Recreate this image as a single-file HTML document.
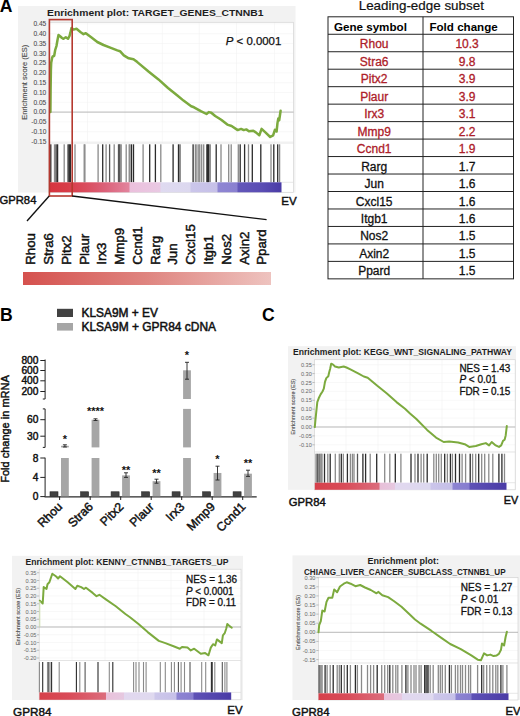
<!DOCTYPE html><html><head><meta charset="utf-8"><style>html,body{margin:0;padding:0;background:#fff;}svg{display:block;}text{font-family:"Liberation Sans",sans-serif;}</style></head><body>
<svg width="520" height="716" viewBox="0 0 520 716">
<rect x="0" y="0" width="520" height="716" fill="#ffffff" />
<text x="-0.2" y="12.4" font-size="17.6" text-anchor="start" fill="#000" font-weight="bold" >A</text>
<rect x="18" y="6" width="277.5" height="186.5" fill="#f2f2f2" />
<rect x="49" y="22.3" width="244.5" height="170.0" fill="#ffffff" />
<line x1="49" y1="23.9" x2="293.5" y2="23.9" stroke="#f3f3f3" stroke-width="0.6" />
<line x1="49" y1="33.7" x2="293.5" y2="33.7" stroke="#f3f3f3" stroke-width="0.6" />
<line x1="49" y1="43.5" x2="293.5" y2="43.5" stroke="#f3f3f3" stroke-width="0.6" />
<line x1="49" y1="53.3" x2="293.5" y2="53.3" stroke="#f3f3f3" stroke-width="0.6" />
<line x1="49" y1="63.1" x2="293.5" y2="63.1" stroke="#f3f3f3" stroke-width="0.6" />
<line x1="49" y1="72.9" x2="293.5" y2="72.9" stroke="#f3f3f3" stroke-width="0.6" />
<line x1="49" y1="82.7" x2="293.5" y2="82.7" stroke="#f3f3f3" stroke-width="0.6" />
<line x1="49" y1="92.5" x2="293.5" y2="92.5" stroke="#f3f3f3" stroke-width="0.6" />
<line x1="49" y1="102.3" x2="293.5" y2="102.3" stroke="#f3f3f3" stroke-width="0.6" />
<line x1="49" y1="112.1" x2="293.5" y2="112.1" stroke="#f3f3f3" stroke-width="0.6" />
<line x1="49" y1="121.9" x2="293.5" y2="121.9" stroke="#f3f3f3" stroke-width="0.6" />
<line x1="49" y1="131.7" x2="293.5" y2="131.7" stroke="#f3f3f3" stroke-width="0.6" />
<line x1="49" y1="141.5" x2="293.5" y2="141.5" stroke="#f3f3f3" stroke-width="0.6" />
<line x1="87.5" y1="22.3" x2="87.5" y2="143" stroke="#f1f1f1" stroke-width="0.6" />
<line x1="125" y1="22.3" x2="125" y2="143" stroke="#f1f1f1" stroke-width="0.6" />
<line x1="162.3" y1="22.3" x2="162.3" y2="143" stroke="#f1f1f1" stroke-width="0.6" />
<line x1="199.2" y1="22.3" x2="199.2" y2="143" stroke="#f1f1f1" stroke-width="0.6" />
<line x1="236.5" y1="22.3" x2="236.5" y2="143" stroke="#f1f1f1" stroke-width="0.6" />
<line x1="274.6" y1="22.3" x2="274.6" y2="143" stroke="#f1f1f1" stroke-width="0.6" />
<rect x="49" y="22.3" width="244.5" height="170.0" fill="none" stroke="#d4d4d4" stroke-width="0.7"/>
<line x1="49" y1="143" x2="293.5" y2="143" stroke="#d8d8d8" stroke-width="0.7" />
<line x1="281.5" y1="182.3" x2="293.5" y2="182.3" stroke="#dddddd" stroke-width="0.7" />
<line x1="49" y1="112.1" x2="293.5" y2="112.1" stroke="#a9a9a9" stroke-width="0.8" />
<text x="46.3" y="26.28" font-size="6.6" text-anchor="end" fill="#4a4a4a" stroke="#4a4a4a" stroke-width="0.06" >0.45</text>
<text x="46.3" y="36.08" font-size="6.6" text-anchor="end" fill="#4a4a4a" stroke="#4a4a4a" stroke-width="0.06" >0.40</text>
<text x="46.3" y="45.88" font-size="6.6" text-anchor="end" fill="#4a4a4a" stroke="#4a4a4a" stroke-width="0.06" >0.35</text>
<text x="46.3" y="55.68" font-size="6.6" text-anchor="end" fill="#4a4a4a" stroke="#4a4a4a" stroke-width="0.06" >0.30</text>
<text x="46.3" y="65.48" font-size="6.6" text-anchor="end" fill="#4a4a4a" stroke="#4a4a4a" stroke-width="0.06" >0.25</text>
<text x="46.3" y="75.28" font-size="6.6" text-anchor="end" fill="#4a4a4a" stroke="#4a4a4a" stroke-width="0.06" >0.20</text>
<text x="46.3" y="85.08" font-size="6.6" text-anchor="end" fill="#4a4a4a" stroke="#4a4a4a" stroke-width="0.06" >0.15</text>
<text x="46.3" y="94.88" font-size="6.6" text-anchor="end" fill="#4a4a4a" stroke="#4a4a4a" stroke-width="0.06" >0.10</text>
<text x="46.3" y="104.68" font-size="6.6" text-anchor="end" fill="#4a4a4a" stroke="#4a4a4a" stroke-width="0.06" >0.05</text>
<text x="46.3" y="114.48" font-size="6.6" text-anchor="end" fill="#4a4a4a" stroke="#4a4a4a" stroke-width="0.06" >0.00</text>
<text x="46.3" y="124.28" font-size="6.6" text-anchor="end" fill="#4a4a4a" stroke="#4a4a4a" stroke-width="0.06" >-0.05</text>
<text x="46.3" y="134.08" font-size="6.6" text-anchor="end" fill="#4a4a4a" stroke="#4a4a4a" stroke-width="0.06" >-0.10</text>
<text x="46.3" y="143.88" font-size="6.6" text-anchor="end" fill="#4a4a4a" stroke="#4a4a4a" stroke-width="0.06" >-0.15</text>
<text x="0" y="0" font-size="7" text-anchor="middle" fill="#4a4a4a" stroke="#4a4a4a" stroke-width="0.12" transform="translate(26.8,82.3) rotate(-90)" textLength="75" lengthAdjust="spacingAndGlyphs">Enrichment score (ES)</text>
<rect x="50.15" y="144.3" width="1.3" height="38.0" fill="#2c2c2c"/>
<rect x="53.85" y="144.3" width="1.3" height="38.0" fill="#8a8a8a"/>
<rect x="55.45" y="144.3" width="1.3" height="38.0" fill="#2c2c2c"/>
<rect x="56.95" y="144.3" width="1.3" height="38.0" fill="#2c2c2c"/>
<rect x="63.55" y="144.3" width="1.3" height="38.0" fill="#8a8a8a"/>
<rect x="67.45" y="144.3" width="1.3" height="38.0" fill="#2c2c2c"/>
<rect x="68.65" y="144.3" width="1.3" height="38.0" fill="#2c2c2c"/>
<rect x="69.75" y="144.3" width="1.3" height="38.0" fill="#2c2c2c"/>
<rect x="74.35" y="144.3" width="1.3" height="38.0" fill="#8a8a8a"/>
<rect x="83.55" y="144.3" width="1.3" height="38.0" fill="#8a8a8a"/>
<rect x="84.25" y="144.3" width="1.3" height="38.0" fill="#8a8a8a"/>
<rect x="97.45" y="144.3" width="1.3" height="38.0" fill="#8a8a8a"/>
<rect x="102.05" y="144.3" width="1.3" height="38.0" fill="#2c2c2c"/>
<rect x="105.45" y="144.3" width="1.3" height="38.0" fill="#8a8a8a"/>
<rect x="108.95" y="144.3" width="1.3" height="38.0" fill="#565656"/>
<rect x="113.55" y="144.3" width="1.3" height="38.0" fill="#8a8a8a"/>
<rect x="117.85" y="144.3" width="1.3" height="38.0" fill="#565656"/>
<rect x="118.65" y="144.3" width="1.3" height="38.0" fill="#565656"/>
<rect x="119.35" y="144.3" width="1.3" height="38.0" fill="#565656"/>
<rect x="120.55" y="144.3" width="1.3" height="38.0" fill="#8a8a8a"/>
<rect x="125.55" y="144.3" width="1.3" height="38.0" fill="#8a8a8a"/>
<rect x="128.55" y="144.3" width="1.3" height="38.0" fill="#8a8a8a"/>
<rect x="129.25" y="144.3" width="1.3" height="38.0" fill="#8a8a8a"/>
<rect x="130.85" y="144.3" width="1.3" height="38.0" fill="#2c2c2c"/>
<rect x="132.85" y="144.3" width="1.3" height="38.0" fill="#2c2c2c"/>
<rect x="142.45" y="144.3" width="1.3" height="38.0" fill="#8a8a8a"/>
<rect x="149.05" y="144.3" width="1.3" height="38.0" fill="#2c2c2c"/>
<rect x="154.75" y="144.3" width="1.3" height="38.0" fill="#2c2c2c"/>
<rect x="160.15" y="144.3" width="1.3" height="38.0" fill="#8a8a8a"/>
<rect x="172.45" y="144.3" width="1.3" height="38.0" fill="#2c2c2c"/>
<rect x="177.85" y="144.3" width="1.3" height="38.0" fill="#2c2c2c"/>
<rect x="179.35" y="144.3" width="1.3" height="38.0" fill="#565656"/>
<rect x="192.45" y="144.3" width="1.3" height="38.0" fill="#2c2c2c"/>
<rect x="194.75" y="144.3" width="1.3" height="38.0" fill="#8a8a8a"/>
<rect x="196.25" y="144.3" width="1.3" height="38.0" fill="#8a8a8a"/>
<rect x="198.15" y="144.3" width="1.3" height="38.0" fill="#8a8a8a"/>
<rect x="199.15" y="144.3" width="1.3" height="38.0" fill="#8a8a8a"/>
<rect x="201.05" y="144.3" width="1.3" height="38.0" fill="#8a8a8a"/>
<rect x="203.05" y="144.3" width="1.3" height="38.0" fill="#8a8a8a"/>
<rect x="206.25" y="144.3" width="1.3" height="38.0" fill="#2c2c2c"/>
<rect x="207.05" y="144.3" width="1.3" height="38.0" fill="#2c2c2c"/>
<rect x="207.85" y="144.3" width="1.3" height="38.0" fill="#2c2c2c"/>
<rect x="209.35" y="144.3" width="1.3" height="38.0" fill="#565656"/>
<rect x="215.55" y="144.3" width="1.3" height="38.0" fill="#2c2c2c"/>
<rect x="220.35" y="144.3" width="1.3" height="38.0" fill="#8a8a8a"/>
<rect x="228.05" y="144.3" width="1.3" height="38.0" fill="#8a8a8a"/>
<rect x="230.55" y="144.3" width="1.3" height="38.0" fill="#8a8a8a"/>
<rect x="237.65" y="144.3" width="1.3" height="38.0" fill="#8a8a8a"/>
<rect x="239.55" y="144.3" width="1.3" height="38.0" fill="#2c2c2c"/>
<rect x="243.95" y="144.3" width="1.3" height="38.0" fill="#2c2c2c"/>
<rect x="247.85" y="144.3" width="1.3" height="38.0" fill="#8a8a8a"/>
<rect x="251.65" y="144.3" width="1.3" height="38.0" fill="#2c2c2c"/>
<rect x="260.15" y="144.3" width="1.3" height="38.0" fill="#2c2c2c"/>
<rect x="270.35" y="144.3" width="1.3" height="38.0" fill="#8a8a8a"/>
<rect x="273.15" y="144.3" width="1.3" height="38.0" fill="#2c2c2c"/>
<rect x="277.05" y="144.3" width="1.3" height="38.0" fill="#2c2c2c"/>
<rect x="278.95" y="144.3" width="1.3" height="38.0" fill="#8a8a8a"/>
<defs><linearGradient id="cbA" x1="0" x2="1" y1="0" y2="0"><stop offset="0.0" stop-color="#d6343f"/><stop offset="0.0774" stop-color="#d83c48"/><stop offset="0.1591" stop-color="#da4d5e"/><stop offset="0.2409" stop-color="#db6179"/><stop offset="0.3441" stop-color="#e2849d"/><stop offset="0.3484" stop-color="#ebc0dc"/><stop offset="0.4774" stop-color="#e9c9e3"/><stop offset="0.4817" stop-color="#dfdaf0"/><stop offset="0.6065" stop-color="#dcd8ef"/><stop offset="0.6108" stop-color="#cbc6ea"/><stop offset="0.7226" stop-color="#c6c0e8"/><stop offset="0.7269" stop-color="#8f86d3"/><stop offset="0.8086" stop-color="#8a80d0"/><stop offset="0.8129" stop-color="#6357b9"/><stop offset="0.9161" stop-color="#5a4db4"/><stop offset="1.0" stop-color="#4a3ba6"/></linearGradient></defs>
<rect x="49" y="182.3" width="232.5" height="10.0" fill="url(#cbA)"/>
<polyline points="50.4,112.1 50.6,90 50.9,70 51.2,62.7 52.2,57.5 52.7,56.5 54.2,55.8 55.2,50 56.5,45.8 57.5,40 58.5,35 60.4,36.5 62,38 63.5,38.8 65.8,37.3 68,38.8 69.5,36 70.4,32.7 71.5,28 73.5,29.6 76.5,28.8 80.4,32 83.5,34.2 85.8,33.2 91.2,37.3 97.3,42 103.5,45 109.6,47.3 117.3,50.4 120,51.2 123.8,55.4 128.7,58.3 133.5,59.2 137.3,62.1 148.8,71.7 158.5,79.4 168,88 177.7,95.8 183.5,100.6 191.2,106.3 194,107.3 200.8,111.2 206.5,114 208.8,112.1 211.3,112.7 215.2,116 221.2,119.8 227.3,124.6 231.6,126 237.7,130.1 241.1,128.9 243.7,130.1 246.3,129.4 248.9,131.2 253.3,130.7 255.8,132.4 259.3,135.3 261.6,128.9 265.4,132.4 270.2,137 273.1,135.3 274.9,129.8 276.6,131.5 277.5,122.9 278.3,118.5 279.2,120.3 280.6,110.8" fill="none" stroke="#7caa3e" stroke-width="2.5" stroke-linejoin="round" stroke-linecap="round"/>
<text x="47" y="16.2" font-size="9.9" text-anchor="start" fill="#1e1e1e" font-weight="bold" textLength="216.5" lengthAdjust="spacingAndGlyphs" >Enrichment plot: TARGET_GENES_CTNNB1</text>
<text x="225.8" y="44.6" font-size="11.4" fill="#111" stroke="#111" stroke-width="0.25" textLength="55.5" lengthAdjust="spacingAndGlyphs"><tspan font-style="italic">P</tspan> &lt; 0.0001</text>
<rect x="49.4" y="19.6" width="22.8" height="176.4" fill="none" stroke="#b5392f" stroke-width="1.6"/>
<text x="-0.6" y="204.2" font-size="11.5" text-anchor="start" fill="#111" textLength="37" lengthAdjust="spacingAndGlyphs" stroke="#111" stroke-width="0.45" >GPR84</text>
<text x="281.3" y="205" font-size="11.5" text-anchor="start" fill="#111" textLength="15.4" lengthAdjust="spacingAndGlyphs" stroke="#111" stroke-width="0.45" >EV</text>
<line x1="49.2" y1="196" x2="27" y2="221" stroke="#111" stroke-width="1.35" />
<line x1="72.2" y1="196" x2="266.6" y2="219.6" stroke="#111" stroke-width="1.35" />
<text x="0" y="0" font-size="13.3" fill="#111" stroke="#111" stroke-width="0.45" transform="translate(35.2,264.8) rotate(-90)">Rhou</text>
<text x="0" y="0" font-size="13.3" fill="#111" stroke="#111" stroke-width="0.45" transform="translate(52.98,264.8) rotate(-90)">Stra6</text>
<text x="0" y="0" font-size="13.3" fill="#111" stroke="#111" stroke-width="0.45" transform="translate(70.76,264.8) rotate(-90)">Pitx2</text>
<text x="0" y="0" font-size="13.3" fill="#111" stroke="#111" stroke-width="0.45" transform="translate(88.54,264.8) rotate(-90)">Plaur</text>
<text x="0" y="0" font-size="13.3" fill="#111" stroke="#111" stroke-width="0.45" transform="translate(106.32,264.8) rotate(-90)">Irx3</text>
<text x="0" y="0" font-size="13.3" fill="#111" stroke="#111" stroke-width="0.45" transform="translate(124.1,264.8) rotate(-90)">Mmp9</text>
<text x="0" y="0" font-size="13.3" fill="#111" stroke="#111" stroke-width="0.45" transform="translate(141.88,264.8) rotate(-90)">Ccnd1</text>
<text x="0" y="0" font-size="13.3" fill="#111" stroke="#111" stroke-width="0.45" transform="translate(159.66,264.8) rotate(-90)">Rarg</text>
<text x="0" y="0" font-size="13.3" fill="#111" stroke="#111" stroke-width="0.45" transform="translate(177.44,264.8) rotate(-90)">Jun</text>
<text x="0" y="0" font-size="13.3" fill="#111" stroke="#111" stroke-width="0.45" transform="translate(195.22,264.8) rotate(-90)">Cxcl15</text>
<text x="0" y="0" font-size="13.3" fill="#111" stroke="#111" stroke-width="0.45" transform="translate(213.0,264.8) rotate(-90)">Itgb1</text>
<text x="0" y="0" font-size="13.3" fill="#111" stroke="#111" stroke-width="0.45" transform="translate(230.78,264.8) rotate(-90)">Nos2</text>
<text x="0" y="0" font-size="13.3" fill="#111" stroke="#111" stroke-width="0.45" transform="translate(248.56,264.8) rotate(-90)">Axin2</text>
<text x="0" y="0" font-size="13.3" fill="#111" stroke="#111" stroke-width="0.45" transform="translate(266.34,264.8) rotate(-90)">Ppard</text>
<defs><linearGradient id="gA" x1="0" x2="1" y1="0" y2="0"><stop offset="0" stop-color="#d5514e"/><stop offset="0.5" stop-color="#df8580"/><stop offset="1" stop-color="#eec3bf"/></linearGradient></defs>
<rect x="23" y="272" width="248" height="13" fill="url(#gA)"/>
<text x="421.3" y="10.2" font-size="13.6" text-anchor="middle" fill="#111" textLength="125.2" lengthAdjust="spacingAndGlyphs" stroke="#111" stroke-width="0.2" >Leading-edge subset</text>
<rect x="328" y="16.8" width="185.5" height="262.05" fill="none" stroke="#222" stroke-width="1"/>
<line x1="423" y1="16.8" x2="423" y2="278.85" stroke="#222" stroke-width="1" />
<line x1="328" y1="34.27" x2="513.5" y2="34.27" stroke="#222" stroke-width="1" />
<line x1="328" y1="51.74" x2="513.5" y2="51.74" stroke="#222" stroke-width="1" />
<line x1="328" y1="69.21" x2="513.5" y2="69.21" stroke="#222" stroke-width="1" />
<line x1="328" y1="86.68" x2="513.5" y2="86.68" stroke="#222" stroke-width="1" />
<line x1="328" y1="104.15" x2="513.5" y2="104.15" stroke="#222" stroke-width="1" />
<line x1="328" y1="121.62" x2="513.5" y2="121.62" stroke="#222" stroke-width="1" />
<line x1="328" y1="139.09" x2="513.5" y2="139.09" stroke="#222" stroke-width="1" />
<line x1="328" y1="156.56" x2="513.5" y2="156.56" stroke="#222" stroke-width="1" />
<line x1="328" y1="174.03" x2="513.5" y2="174.03" stroke="#222" stroke-width="1" />
<line x1="328" y1="191.5" x2="513.5" y2="191.5" stroke="#222" stroke-width="1" />
<line x1="328" y1="208.97" x2="513.5" y2="208.97" stroke="#222" stroke-width="1" />
<line x1="328" y1="226.44" x2="513.5" y2="226.44" stroke="#222" stroke-width="1" />
<line x1="328" y1="243.91" x2="513.5" y2="243.91" stroke="#222" stroke-width="1" />
<line x1="328" y1="261.38" x2="513.5" y2="261.38" stroke="#222" stroke-width="1" />
<text x="370.4" y="31.4" font-size="11.8" text-anchor="middle" fill="#000" font-weight="bold" textLength="73" lengthAdjust="spacingAndGlyphs" >Gene symbol</text>
<text x="463.6" y="31.4" font-size="11.8" text-anchor="middle" fill="#000" font-weight="bold" textLength="68.3" lengthAdjust="spacingAndGlyphs" >Fold change</text>
<text x="374.2" y="48.27" font-size="12" text-anchor="middle" fill="#ad2029" stroke="#ad2029" stroke-width="0.3" >Rhou</text>
<text x="467.1" y="48.27" font-size="12" text-anchor="middle" fill="#ad2029" stroke="#ad2029" stroke-width="0.3" >10.3</text>
<text x="374.2" y="65.74" font-size="12" text-anchor="middle" fill="#ad2029" stroke="#ad2029" stroke-width="0.3" >Stra6</text>
<text x="467.1" y="65.74" font-size="12" text-anchor="middle" fill="#ad2029" stroke="#ad2029" stroke-width="0.3" >9.8</text>
<text x="374.2" y="83.21" font-size="12" text-anchor="middle" fill="#ad2029" stroke="#ad2029" stroke-width="0.3" >Pitx2</text>
<text x="467.1" y="83.21" font-size="12" text-anchor="middle" fill="#ad2029" stroke="#ad2029" stroke-width="0.3" >3.9</text>
<text x="374.2" y="100.68" font-size="12" text-anchor="middle" fill="#ad2029" stroke="#ad2029" stroke-width="0.3" >Plaur</text>
<text x="467.1" y="100.68" font-size="12" text-anchor="middle" fill="#ad2029" stroke="#ad2029" stroke-width="0.3" >3.9</text>
<text x="374.2" y="118.15" font-size="12" text-anchor="middle" fill="#ad2029" stroke="#ad2029" stroke-width="0.3" >Irx3</text>
<text x="467.1" y="118.15" font-size="12" text-anchor="middle" fill="#ad2029" stroke="#ad2029" stroke-width="0.3" >3.1</text>
<text x="374.2" y="135.62" font-size="12" text-anchor="middle" fill="#ad2029" stroke="#ad2029" stroke-width="0.3" >Mmp9</text>
<text x="467.1" y="135.62" font-size="12" text-anchor="middle" fill="#ad2029" stroke="#ad2029" stroke-width="0.3" >2.2</text>
<text x="374.2" y="153.09" font-size="12" text-anchor="middle" fill="#ad2029" stroke="#ad2029" stroke-width="0.3" >Ccnd1</text>
<text x="467.1" y="153.09" font-size="12" text-anchor="middle" fill="#ad2029" stroke="#ad2029" stroke-width="0.3" >1.9</text>
<text x="374.2" y="170.56" font-size="12" text-anchor="middle" fill="#111" stroke="#111" stroke-width="0.3" >Rarg</text>
<text x="467.1" y="170.56" font-size="12" text-anchor="middle" fill="#111" stroke="#111" stroke-width="0.3" >1.7</text>
<text x="374.2" y="188.03" font-size="12" text-anchor="middle" fill="#111" stroke="#111" stroke-width="0.3" >Jun</text>
<text x="467.1" y="188.03" font-size="12" text-anchor="middle" fill="#111" stroke="#111" stroke-width="0.3" >1.6</text>
<text x="374.2" y="205.5" font-size="12" text-anchor="middle" fill="#111" stroke="#111" stroke-width="0.3" >Cxcl15</text>
<text x="467.1" y="205.5" font-size="12" text-anchor="middle" fill="#111" stroke="#111" stroke-width="0.3" >1.6</text>
<text x="374.2" y="222.97" font-size="12" text-anchor="middle" fill="#111" stroke="#111" stroke-width="0.3" >Itgb1</text>
<text x="467.1" y="222.97" font-size="12" text-anchor="middle" fill="#111" stroke="#111" stroke-width="0.3" >1.6</text>
<text x="374.2" y="240.44" font-size="12" text-anchor="middle" fill="#111" stroke="#111" stroke-width="0.3" >Nos2</text>
<text x="467.1" y="240.44" font-size="12" text-anchor="middle" fill="#111" stroke="#111" stroke-width="0.3" >1.5</text>
<text x="374.2" y="257.91" font-size="12" text-anchor="middle" fill="#111" stroke="#111" stroke-width="0.3" >Axin2</text>
<text x="467.1" y="257.91" font-size="12" text-anchor="middle" fill="#111" stroke="#111" stroke-width="0.3" >1.5</text>
<text x="374.2" y="275.38" font-size="12" text-anchor="middle" fill="#111" stroke="#111" stroke-width="0.3" >Ppard</text>
<text x="467.1" y="275.38" font-size="12" text-anchor="middle" fill="#111" stroke="#111" stroke-width="0.3" >1.5</text>
<text x="0.1" y="321.4" font-size="17.6" text-anchor="start" fill="#000" font-weight="bold" >B</text>
<rect x="57" y="308.8" width="16" height="8.2" fill="#424242" />
<rect x="57" y="323" width="16" height="7.6" fill="#a6a6a6" />
<text x="81.5" y="317.2" font-size="12.2" text-anchor="start" fill="#111" textLength="76.5" lengthAdjust="spacingAndGlyphs" stroke="#111" stroke-width="0.5" >KLSA9M + EV</text>
<text x="81.5" y="331.2" font-size="12.2" text-anchor="start" fill="#111" textLength="134.5" lengthAdjust="spacingAndGlyphs" stroke="#111" stroke-width="0.5" >KLSA9M + GPR84 cDNA</text>
<text x="0" y="0" font-size="11.4" fill="#111" stroke="#111" stroke-width="0.45" text-anchor="middle" transform="translate(8.6,429) rotate(-90)" textLength="107.5" lengthAdjust="spacingAndGlyphs">Fold change in mRNA</text>
<line x1="45.1" y1="359.5" x2="45.1" y2="399" stroke="#222" stroke-width="1" />
<line x1="45.1" y1="408.9" x2="45.1" y2="447.4" stroke="#222" stroke-width="1" />
<line x1="45.1" y1="457.7" x2="45.1" y2="496.6" stroke="#222" stroke-width="1" />
<line x1="40.3" y1="360.5" x2="45.1" y2="360.5" stroke="#222" stroke-width="1" />
<text x="38.4" y="364.1" font-size="10.2" text-anchor="end" fill="#111" stroke="#111" stroke-width="0.45" >800</text>
<line x1="40.3" y1="370.5" x2="45.1" y2="370.5" stroke="#222" stroke-width="1" />
<text x="38.4" y="374.1" font-size="10.2" text-anchor="end" fill="#111" stroke="#111" stroke-width="0.45" >600</text>
<line x1="40.3" y1="380.8" x2="45.1" y2="380.8" stroke="#222" stroke-width="1" />
<text x="38.4" y="384.4" font-size="10.2" text-anchor="end" fill="#111" stroke="#111" stroke-width="0.45" >400</text>
<line x1="40.3" y1="391.5" x2="45.1" y2="391.5" stroke="#222" stroke-width="1" />
<text x="38.4" y="395.1" font-size="10.2" text-anchor="end" fill="#111" stroke="#111" stroke-width="0.45" >200</text>
<line x1="42.8" y1="399" x2="45.1" y2="399" stroke="#222" stroke-width="1" />
<line x1="42.8" y1="408.9" x2="45.1" y2="408.9" stroke="#222" stroke-width="1" />
<line x1="42.8" y1="447.4" x2="45.1" y2="447.4" stroke="#222" stroke-width="1" />
<line x1="40.3" y1="419.7" x2="45.1" y2="419.7" stroke="#222" stroke-width="1" />
<text x="38.4" y="423.3" font-size="10.2" text-anchor="end" fill="#111" stroke="#111" stroke-width="0.45" >60</text>
<line x1="40.3" y1="436.2" x2="45.1" y2="436.2" stroke="#222" stroke-width="1" />
<text x="38.4" y="439.8" font-size="10.2" text-anchor="end" fill="#111" stroke="#111" stroke-width="0.45" >30</text>
<line x1="40.3" y1="458" x2="45.1" y2="458" stroke="#222" stroke-width="1" />
<text x="38.4" y="461.6" font-size="10.2" text-anchor="end" fill="#111" stroke="#111" stroke-width="0.45" >8</text>
<line x1="40.3" y1="477.4" x2="45.1" y2="477.4" stroke="#222" stroke-width="1" />
<text x="38.4" y="481.0" font-size="10.2" text-anchor="end" fill="#111" stroke="#111" stroke-width="0.45" >4</text>
<line x1="40.3" y1="496.6" x2="45.1" y2="496.6" stroke="#222" stroke-width="1" />
<text x="38.4" y="500.2" font-size="10.2" text-anchor="end" fill="#111" stroke="#111" stroke-width="0.45" >0</text>
<line x1="44.6" y1="496.9" x2="256.7" y2="496.9" stroke="#2a2a2a" stroke-width="1.3" />
<line x1="59.6" y1="496.6" x2="59.6" y2="500" stroke="#222" stroke-width="1" />
<line x1="90.2" y1="496.6" x2="90.2" y2="500" stroke="#222" stroke-width="1" />
<line x1="120.7" y1="496.6" x2="120.7" y2="500" stroke="#222" stroke-width="1" />
<line x1="151.2" y1="496.6" x2="151.2" y2="500" stroke="#222" stroke-width="1" />
<line x1="181.7" y1="496.6" x2="181.7" y2="500" stroke="#222" stroke-width="1" />
<line x1="212.2" y1="496.6" x2="212.2" y2="500" stroke="#222" stroke-width="1" />
<line x1="242.7" y1="496.6" x2="242.7" y2="500" stroke="#222" stroke-width="1" />
<rect x="50.0" y="491.78" width="8.0" height="4.52" fill="#424242" stroke="#262626" stroke-width="0.6"/>
<rect x="80.6" y="491.78" width="8.0" height="4.52" fill="#424242" stroke="#262626" stroke-width="0.6"/>
<rect x="111.1" y="491.78" width="8.0" height="4.52" fill="#424242" stroke="#262626" stroke-width="0.6"/>
<rect x="141.6" y="491.78" width="8.0" height="4.52" fill="#424242" stroke="#262626" stroke-width="0.6"/>
<rect x="172.1" y="491.78" width="8.0" height="4.52" fill="#424242" stroke="#262626" stroke-width="0.6"/>
<rect x="202.6" y="491.78" width="8.0" height="4.52" fill="#424242" stroke="#262626" stroke-width="0.6"/>
<rect x="233.1" y="491.78" width="8.0" height="4.52" fill="#424242" stroke="#262626" stroke-width="0.6"/>
<rect x="61.0" y="458" width="7.8" height="38.3" fill="#a6a6a6" />
<rect x="91.6" y="458" width="7.8" height="38.3" fill="#a6a6a6" />
<rect x="122.1" y="475.37" width="7.8" height="20.93" fill="#a6a6a6" />
<rect x="152.6" y="481.16" width="7.8" height="15.14" fill="#a6a6a6" />
<rect x="183.1" y="458" width="7.8" height="38.3" fill="#a6a6a6" />
<rect x="213.6" y="472.96" width="7.8" height="23.34" fill="#a6a6a6" />
<rect x="244.1" y="473.68" width="7.8" height="22.62" fill="#a6a6a6" />
<rect x="61.0" y="445.8" width="7.8" height="1.6" fill="#a6a6a6" />
<rect x="91.6" y="419.7" width="7.8" height="27.7" fill="#a6a6a6" />
<rect x="183.1" y="408.9" width="7.8" height="38.5" fill="#a6a6a6" />
<rect x="183.1" y="370.3" width="7.8" height="28.7" fill="#a6a6a6" />
<line x1="64.9" y1="444.8" x2="64.9" y2="447" stroke="#222" stroke-width="0.9" />
<line x1="62.900000000000006" y1="444.8" x2="66.9" y2="444.8" stroke="#222" stroke-width="0.9" />
<line x1="62.900000000000006" y1="447" x2="66.9" y2="447" stroke="#222" stroke-width="0.9" />
<line x1="95.5" y1="418.8" x2="95.5" y2="420.5" stroke="#222" stroke-width="0.9" />
<line x1="93.5" y1="418.8" x2="97.5" y2="418.8" stroke="#222" stroke-width="0.9" />
<line x1="93.5" y1="420.5" x2="97.5" y2="420.5" stroke="#222" stroke-width="0.9" />
<line x1="126.0" y1="472.8" x2="126.0" y2="477.4" stroke="#222" stroke-width="0.9" />
<line x1="124.0" y1="472.8" x2="128.0" y2="472.8" stroke="#222" stroke-width="0.9" />
<line x1="124.0" y1="477.4" x2="128.0" y2="477.4" stroke="#222" stroke-width="0.9" />
<line x1="156.5" y1="479.2" x2="156.5" y2="483.2" stroke="#222" stroke-width="0.9" />
<line x1="154.5" y1="479.2" x2="158.5" y2="479.2" stroke="#222" stroke-width="0.9" />
<line x1="154.5" y1="483.2" x2="158.5" y2="483.2" stroke="#222" stroke-width="0.9" />
<line x1="187.0" y1="362.3" x2="187.0" y2="379.2" stroke="#222" stroke-width="0.9" />
<line x1="185.0" y1="362.3" x2="189.0" y2="362.3" stroke="#222" stroke-width="0.9" />
<line x1="185.0" y1="379.2" x2="189.0" y2="379.2" stroke="#222" stroke-width="0.9" />
<line x1="217.5" y1="466.2" x2="217.5" y2="480" stroke="#222" stroke-width="0.9" />
<line x1="215.5" y1="466.2" x2="219.5" y2="466.2" stroke="#222" stroke-width="0.9" />
<line x1="215.5" y1="480" x2="219.5" y2="480" stroke="#222" stroke-width="0.9" />
<line x1="248.0" y1="470.2" x2="248.0" y2="476.4" stroke="#222" stroke-width="0.9" />
<line x1="246.0" y1="470.2" x2="250.0" y2="470.2" stroke="#222" stroke-width="0.9" />
<line x1="246.0" y1="476.4" x2="250.0" y2="476.4" stroke="#222" stroke-width="0.9" />
<text x="64.9" y="442.5" font-size="11" text-anchor="middle" fill="#111" font-weight="bold" >*</text>
<text x="95.5" y="415.2" font-size="11" text-anchor="middle" fill="#111" font-weight="bold" >****</text>
<text x="126.0" y="473.5" font-size="11" text-anchor="middle" fill="#111" font-weight="bold" >**</text>
<text x="156.5" y="477" font-size="11" text-anchor="middle" fill="#111" font-weight="bold" >**</text>
<text x="187.0" y="358.5" font-size="11" text-anchor="middle" fill="#111" font-weight="bold" >*</text>
<text x="217.5" y="463.3" font-size="11" text-anchor="middle" fill="#111" font-weight="bold" >*</text>
<text x="248.0" y="467.2" font-size="11" text-anchor="middle" fill="#111" font-weight="bold" >**</text>
<text x="0" y="0" font-size="12.2" fill="#111" stroke="#111" stroke-width="0.45" text-anchor="end" transform="translate(63.1,507.5) rotate(-45)">Rhou</text>
<text x="0" y="0" font-size="12.2" fill="#111" stroke="#111" stroke-width="0.45" text-anchor="end" transform="translate(93.7,507.5) rotate(-45)">Stra6</text>
<text x="0" y="0" font-size="12.2" fill="#111" stroke="#111" stroke-width="0.45" text-anchor="end" transform="translate(124.2,507.5) rotate(-45)">Pitx2</text>
<text x="0" y="0" font-size="12.2" fill="#111" stroke="#111" stroke-width="0.45" text-anchor="end" transform="translate(154.7,507.5) rotate(-45)">Plaur</text>
<text x="0" y="0" font-size="12.2" fill="#111" stroke="#111" stroke-width="0.45" text-anchor="end" transform="translate(185.2,507.5) rotate(-45)">Irx3</text>
<text x="0" y="0" font-size="12.2" fill="#111" stroke="#111" stroke-width="0.45" text-anchor="end" transform="translate(215.7,507.5) rotate(-45)">Mmp9</text>
<text x="0" y="0" font-size="12.2" fill="#111" stroke="#111" stroke-width="0.45" text-anchor="end" transform="translate(246.2,507.5) rotate(-45)">Ccnd1</text>
<text x="261.9" y="321.3" font-size="17.6" text-anchor="start" fill="#000" font-weight="bold" >C</text>
<rect x="288" y="346.2" width="228" height="143.6" fill="#f2f2f2" />
<rect x="314.6" y="359.7" width="200.6" height="130.1" fill="#ffffff" />
<line x1="314.6" y1="364.7" x2="515.2" y2="364.7" stroke="#f3f3f3" stroke-width="0.6" />
<line x1="314.6" y1="373.6" x2="515.2" y2="373.6" stroke="#f3f3f3" stroke-width="0.6" />
<line x1="314.6" y1="382.5" x2="515.2" y2="382.5" stroke="#f3f3f3" stroke-width="0.6" />
<line x1="314.6" y1="391.4" x2="515.2" y2="391.4" stroke="#f3f3f3" stroke-width="0.6" />
<line x1="314.6" y1="400.3" x2="515.2" y2="400.3" stroke="#f3f3f3" stroke-width="0.6" />
<line x1="314.6" y1="409.2" x2="515.2" y2="409.2" stroke="#f3f3f3" stroke-width="0.6" />
<line x1="314.6" y1="418.1" x2="515.2" y2="418.1" stroke="#f3f3f3" stroke-width="0.6" />
<line x1="314.6" y1="427.0" x2="515.2" y2="427.0" stroke="#f3f3f3" stroke-width="0.6" />
<line x1="314.6" y1="435.9" x2="515.2" y2="435.9" stroke="#f3f3f3" stroke-width="0.6" />
<line x1="314.6" y1="444.8" x2="515.2" y2="444.8" stroke="#f3f3f3" stroke-width="0.6" />
<line x1="346" y1="359.7" x2="346" y2="452" stroke="#f1f1f1" stroke-width="0.6" />
<line x1="378" y1="359.7" x2="378" y2="452" stroke="#f1f1f1" stroke-width="0.6" />
<line x1="410" y1="359.7" x2="410" y2="452" stroke="#f1f1f1" stroke-width="0.6" />
<line x1="442" y1="359.7" x2="442" y2="452" stroke="#f1f1f1" stroke-width="0.6" />
<line x1="474" y1="359.7" x2="474" y2="452" stroke="#f1f1f1" stroke-width="0.6" />
<rect x="314.6" y="359.7" width="200.6" height="130.1" fill="none" stroke="#d4d4d4" stroke-width="0.7"/>
<line x1="314.6" y1="452" x2="515.2" y2="452" stroke="#d8d8d8" stroke-width="0.7" />
<line x1="506.5" y1="482.7" x2="515.2" y2="482.7" stroke="#dddddd" stroke-width="0.7" />
<line x1="314.6" y1="427" x2="515.2" y2="427" stroke="#a9a9a9" stroke-width="0.8" />
<text x="311.8" y="366.72" font-size="5.6" text-anchor="end" fill="#666" >0.35</text>
<line x1="312.4" y1="364.7" x2="314.6" y2="364.7" stroke="#9a9a9a" stroke-width="0.6" />
<text x="311.8" y="375.62" font-size="5.6" text-anchor="end" fill="#666" >0.30</text>
<line x1="312.4" y1="373.6" x2="314.6" y2="373.6" stroke="#9a9a9a" stroke-width="0.6" />
<text x="311.8" y="384.52" font-size="5.6" text-anchor="end" fill="#666" >0.25</text>
<line x1="312.4" y1="382.5" x2="314.6" y2="382.5" stroke="#9a9a9a" stroke-width="0.6" />
<text x="311.8" y="393.42" font-size="5.6" text-anchor="end" fill="#666" >0.20</text>
<line x1="312.4" y1="391.4" x2="314.6" y2="391.4" stroke="#9a9a9a" stroke-width="0.6" />
<text x="311.8" y="402.32" font-size="5.6" text-anchor="end" fill="#666" >0.15</text>
<line x1="312.4" y1="400.3" x2="314.6" y2="400.3" stroke="#9a9a9a" stroke-width="0.6" />
<text x="311.8" y="411.22" font-size="5.6" text-anchor="end" fill="#666" >0.10</text>
<line x1="312.4" y1="409.2" x2="314.6" y2="409.2" stroke="#9a9a9a" stroke-width="0.6" />
<text x="311.8" y="420.12" font-size="5.6" text-anchor="end" fill="#666" >0.05</text>
<line x1="312.4" y1="418.1" x2="314.6" y2="418.1" stroke="#9a9a9a" stroke-width="0.6" />
<text x="311.8" y="429.02" font-size="5.6" text-anchor="end" fill="#666" >0.00</text>
<line x1="312.4" y1="427.0" x2="314.6" y2="427.0" stroke="#9a9a9a" stroke-width="0.6" />
<text x="311.8" y="437.92" font-size="5.6" text-anchor="end" fill="#666" >-0.05</text>
<line x1="312.4" y1="435.9" x2="314.6" y2="435.9" stroke="#9a9a9a" stroke-width="0.6" />
<text x="311.8" y="446.82" font-size="5.6" text-anchor="end" fill="#666" >-0.10</text>
<line x1="312.4" y1="444.8" x2="314.6" y2="444.8" stroke="#9a9a9a" stroke-width="0.6" />
<text x="0" y="0" font-size="5.8" text-anchor="middle" fill="#4a4a4a" stroke="#4a4a4a" stroke-width="0.12" transform="translate(295.4,406.8) rotate(-90)" textLength="56" lengthAdjust="spacingAndGlyphs">Enrichment score (ES)</text>
<rect x="315.35" y="453.7" width="1.3" height="29.0" fill="#8a8a8a"/>
<rect x="316.65" y="453.7" width="1.3" height="29.0" fill="#565656"/>
<rect x="317.95" y="453.7" width="1.3" height="29.0" fill="#8a8a8a"/>
<rect x="319.25" y="453.7" width="1.3" height="29.0" fill="#565656"/>
<rect x="320.55" y="453.7" width="1.3" height="29.0" fill="#8a8a8a"/>
<rect x="321.35" y="453.7" width="1.3" height="29.0" fill="#8a8a8a"/>
<rect x="323.85" y="453.7" width="1.3" height="29.0" fill="#2c2c2c"/>
<rect x="327.15" y="453.7" width="1.3" height="29.0" fill="#8a8a8a"/>
<rect x="329.55" y="453.7" width="1.3" height="29.0" fill="#2c2c2c"/>
<rect x="334.65" y="453.7" width="1.3" height="29.0" fill="#8a8a8a"/>
<rect x="338.65" y="453.7" width="1.3" height="29.0" fill="#8a8a8a"/>
<rect x="340.65" y="453.7" width="1.3" height="29.0" fill="#2c2c2c"/>
<rect x="342.65" y="453.7" width="1.3" height="29.0" fill="#8a8a8a"/>
<rect x="346.75" y="453.7" width="1.3" height="29.0" fill="#2c2c2c"/>
<rect x="349.75" y="453.7" width="1.3" height="29.0" fill="#8a8a8a"/>
<rect x="351.75" y="453.7" width="1.3" height="29.0" fill="#8a8a8a"/>
<rect x="353.35" y="453.7" width="1.3" height="29.0" fill="#8a8a8a"/>
<rect x="356.85" y="453.7" width="1.3" height="29.0" fill="#565656"/>
<rect x="362.25" y="453.7" width="1.3" height="29.0" fill="#2c2c2c"/>
<rect x="364.95" y="453.7" width="1.3" height="29.0" fill="#2c2c2c"/>
<rect x="369.55" y="453.7" width="1.3" height="29.0" fill="#8a8a8a"/>
<rect x="376.05" y="453.7" width="1.3" height="29.0" fill="#2c2c2c"/>
<rect x="384.05" y="453.7" width="1.3" height="29.0" fill="#8a8a8a"/>
<rect x="389.15" y="453.7" width="1.3" height="29.0" fill="#8a8a8a"/>
<rect x="394.65" y="453.7" width="1.3" height="29.0" fill="#2c2c2c"/>
<rect x="400.25" y="453.7" width="1.3" height="29.0" fill="#8a8a8a"/>
<rect x="410.35" y="453.7" width="1.3" height="29.0" fill="#2c2c2c"/>
<rect x="414.35" y="453.7" width="1.3" height="29.0" fill="#8a8a8a"/>
<rect x="417.35" y="453.7" width="1.3" height="29.0" fill="#2c2c2c"/>
<rect x="420.45" y="453.7" width="1.3" height="29.0" fill="#8a8a8a"/>
<rect x="423.05" y="453.7" width="1.3" height="29.0" fill="#8a8a8a"/>
<rect x="426.55" y="453.7" width="1.3" height="29.0" fill="#2c2c2c"/>
<rect x="433.15" y="453.7" width="1.3" height="29.0" fill="#8a8a8a"/>
<rect x="435.65" y="453.7" width="1.3" height="29.0" fill="#8a8a8a"/>
<rect x="438.05" y="453.7" width="1.3" height="29.0" fill="#8a8a8a"/>
<rect x="440.65" y="453.7" width="1.3" height="29.0" fill="#8a8a8a"/>
<rect x="444.05" y="453.7" width="1.3" height="29.0" fill="#2c2c2c"/>
<rect x="446.75" y="453.7" width="1.3" height="29.0" fill="#8a8a8a"/>
<rect x="449.75" y="453.7" width="1.3" height="29.0" fill="#2c2c2c"/>
<rect x="451.75" y="453.7" width="1.3" height="29.0" fill="#8a8a8a"/>
<rect x="454.85" y="453.7" width="1.3" height="29.0" fill="#2c2c2c"/>
<rect x="458.85" y="453.7" width="1.3" height="29.0" fill="#2c2c2c"/>
<rect x="461.45" y="453.7" width="1.3" height="29.0" fill="#8a8a8a"/>
<rect x="464.95" y="453.7" width="1.3" height="29.0" fill="#8a8a8a"/>
<rect x="469.55" y="453.7" width="1.3" height="29.0" fill="#2c2c2c"/>
<rect x="471.95" y="453.7" width="1.3" height="29.0" fill="#8a8a8a"/>
<rect x="475.05" y="453.7" width="1.3" height="29.0" fill="#8a8a8a"/>
<rect x="478.05" y="453.7" width="1.3" height="29.0" fill="#2c2c2c"/>
<rect x="481.05" y="453.7" width="1.3" height="29.0" fill="#8a8a8a"/>
<rect x="484.05" y="453.7" width="1.3" height="29.0" fill="#8a8a8a"/>
<rect x="488.15" y="453.7" width="1.3" height="29.0" fill="#8a8a8a"/>
<rect x="492.15" y="453.7" width="1.3" height="29.0" fill="#8a8a8a"/>
<rect x="498.25" y="453.7" width="1.3" height="29.0" fill="#2c2c2c"/>
<rect x="501.25" y="453.7" width="1.3" height="29.0" fill="#2c2c2c"/>
<rect x="503.85" y="453.7" width="1.3" height="29.0" fill="#8a8a8a"/>
<defs><linearGradient id="cbC" x1="0" x2="1" y1="0" y2="0"><stop offset="0.0" stop-color="#d6404b"/><stop offset="0.1523" stop-color="#d94b58"/><stop offset="0.3349" stop-color="#dc6c7c"/><stop offset="0.3401" stop-color="#e8c0d8"/><stop offset="0.4158" stop-color="#e6c8e0"/><stop offset="0.4184" stop-color="#e2d8ef"/><stop offset="0.6009" stop-color="#dcd8ef"/><stop offset="0.6062" stop-color="#cbc5ea"/><stop offset="0.7157" stop-color="#c5bfe8"/><stop offset="0.7209" stop-color="#8d84d2"/><stop offset="0.8044" stop-color="#877dcf"/><stop offset="0.8096" stop-color="#5e51b6"/><stop offset="1.0" stop-color="#4a3ba6"/></linearGradient></defs>
<rect x="314.8" y="482.7" width="191.7" height="7.1" fill="url(#cbC)"/>
<polyline points="314.8,427.1 315.4,420.4 316.2,412.7 317.3,402.1 318.7,398.3 320.6,394.4 322.5,391.5 323.8,388.7 325,381.9 326.3,378.1 328.3,376.2 329.2,372.3 330.2,368.5 331.2,363.7 333.1,364.6 335,366.5 338.8,367.5 343.7,366.5 346.5,367.5 350.4,369.4 358.1,373.3 363.8,376.5 367.7,377.7 377.3,385.8 386.9,393.5 396.5,402.1 405,408.8 410,413.5 416.1,418.8 427.1,429.9 436,437.6 443.7,442 449.2,441.6 458.1,442.5 464.7,444.2 469.2,446.9 475.8,446 481.3,444.2 485.8,443.1 489.1,445.4 491.7,442 495.7,445.4 499,446.9 501.2,445.4 503,440.9 504.6,439.8 505.7,435.4 506.8,426.1" fill="none" stroke="#7caa3e" stroke-width="2.0" stroke-linejoin="round" stroke-linecap="round"/>
<text x="293" y="355.4" font-size="8.6" text-anchor="start" fill="#1e1e1e" font-weight="bold" textLength="219" lengthAdjust="spacingAndGlyphs" >Enrichment plot: KEGG_WNT_SIGNALING_PATHWAY</text>
<text x="459.4" y="371.7" font-size="10" text-anchor="start" fill="#111" textLength="51" lengthAdjust="spacingAndGlyphs" stroke="#111" stroke-width="0.3" >NES = 1.43</text>
<text x="459.4" y="383.4" font-size="10" fill="#111" stroke="#111" stroke-width="0.3"><tspan font-style="italic">P</tspan> &lt; 0.01</text>
<text x="459.4" y="395.3" font-size="10" text-anchor="start" fill="#111" textLength="51" lengthAdjust="spacingAndGlyphs" stroke="#111" stroke-width="0.3" >FDR = 0.15</text>
<text x="288.7" y="506.3" font-size="11" text-anchor="start" fill="#111" textLength="37" lengthAdjust="spacingAndGlyphs" stroke="#111" stroke-width="0.45" >GPR84</text>
<text x="503.7" y="504.4" font-size="11" text-anchor="start" fill="#111" textLength="14.5" lengthAdjust="spacingAndGlyphs" stroke="#111" stroke-width="0.45" >EV</text>
<rect x="12" y="555.8" width="231" height="144.2" fill="#f2f2f2" />
<rect x="39.2" y="569.2" width="201.8" height="130.6" fill="#ffffff" />
<line x1="39.2" y1="572.75" x2="241" y2="572.75" stroke="#f3f3f3" stroke-width="0.6" />
<line x1="39.2" y1="580.5" x2="241" y2="580.5" stroke="#f3f3f3" stroke-width="0.6" />
<line x1="39.2" y1="588.25" x2="241" y2="588.25" stroke="#f3f3f3" stroke-width="0.6" />
<line x1="39.2" y1="596.0" x2="241" y2="596.0" stroke="#f3f3f3" stroke-width="0.6" />
<line x1="39.2" y1="603.75" x2="241" y2="603.75" stroke="#f3f3f3" stroke-width="0.6" />
<line x1="39.2" y1="611.5" x2="241" y2="611.5" stroke="#f3f3f3" stroke-width="0.6" />
<line x1="39.2" y1="619.25" x2="241" y2="619.25" stroke="#f3f3f3" stroke-width="0.6" />
<line x1="39.2" y1="627.0" x2="241" y2="627.0" stroke="#f3f3f3" stroke-width="0.6" />
<line x1="39.2" y1="634.75" x2="241" y2="634.75" stroke="#f3f3f3" stroke-width="0.6" />
<line x1="39.2" y1="642.5" x2="241" y2="642.5" stroke="#f3f3f3" stroke-width="0.6" />
<line x1="39.2" y1="650.25" x2="241" y2="650.25" stroke="#f3f3f3" stroke-width="0.6" />
<line x1="39.2" y1="658.0" x2="241" y2="658.0" stroke="#f3f3f3" stroke-width="0.6" />
<line x1="72" y1="569.2" x2="72" y2="660.5" stroke="#f1f1f1" stroke-width="0.6" />
<line x1="105" y1="569.2" x2="105" y2="660.5" stroke="#f1f1f1" stroke-width="0.6" />
<line x1="138" y1="569.2" x2="138" y2="660.5" stroke="#f1f1f1" stroke-width="0.6" />
<line x1="171" y1="569.2" x2="171" y2="660.5" stroke="#f1f1f1" stroke-width="0.6" />
<line x1="204" y1="569.2" x2="204" y2="660.5" stroke="#f1f1f1" stroke-width="0.6" />
<rect x="39.2" y="569.2" width="201.8" height="130.6" fill="none" stroke="#d4d4d4" stroke-width="0.7"/>
<line x1="39.2" y1="660.5" x2="241" y2="660.5" stroke="#d8d8d8" stroke-width="0.7" />
<line x1="231.2" y1="692.4" x2="241" y2="692.4" stroke="#dddddd" stroke-width="0.7" />
<line x1="39.2" y1="627" x2="241" y2="627" stroke="#a9a9a9" stroke-width="0.8" />
<text x="36.4" y="574.77" font-size="5.6" text-anchor="end" fill="#666" >0.35</text>
<line x1="37.0" y1="572.75" x2="39.2" y2="572.75" stroke="#9a9a9a" stroke-width="0.6" />
<text x="36.4" y="582.52" font-size="5.6" text-anchor="end" fill="#666" >0.30</text>
<line x1="37.0" y1="580.5" x2="39.2" y2="580.5" stroke="#9a9a9a" stroke-width="0.6" />
<text x="36.4" y="590.27" font-size="5.6" text-anchor="end" fill="#666" >0.25</text>
<line x1="37.0" y1="588.25" x2="39.2" y2="588.25" stroke="#9a9a9a" stroke-width="0.6" />
<text x="36.4" y="598.02" font-size="5.6" text-anchor="end" fill="#666" >0.20</text>
<line x1="37.0" y1="596.0" x2="39.2" y2="596.0" stroke="#9a9a9a" stroke-width="0.6" />
<text x="36.4" y="605.77" font-size="5.6" text-anchor="end" fill="#666" >0.15</text>
<line x1="37.0" y1="603.75" x2="39.2" y2="603.75" stroke="#9a9a9a" stroke-width="0.6" />
<text x="36.4" y="613.52" font-size="5.6" text-anchor="end" fill="#666" >0.10</text>
<line x1="37.0" y1="611.5" x2="39.2" y2="611.5" stroke="#9a9a9a" stroke-width="0.6" />
<text x="36.4" y="621.27" font-size="5.6" text-anchor="end" fill="#666" >0.05</text>
<line x1="37.0" y1="619.25" x2="39.2" y2="619.25" stroke="#9a9a9a" stroke-width="0.6" />
<text x="36.4" y="629.02" font-size="5.6" text-anchor="end" fill="#666" >0.00</text>
<line x1="37.0" y1="627.0" x2="39.2" y2="627.0" stroke="#9a9a9a" stroke-width="0.6" />
<text x="36.4" y="636.77" font-size="5.6" text-anchor="end" fill="#666" >-0.05</text>
<line x1="37.0" y1="634.75" x2="39.2" y2="634.75" stroke="#9a9a9a" stroke-width="0.6" />
<text x="36.4" y="644.52" font-size="5.6" text-anchor="end" fill="#666" >-0.10</text>
<line x1="37.0" y1="642.5" x2="39.2" y2="642.5" stroke="#9a9a9a" stroke-width="0.6" />
<text x="36.4" y="652.27" font-size="5.6" text-anchor="end" fill="#666" >-0.15</text>
<line x1="37.0" y1="650.25" x2="39.2" y2="650.25" stroke="#9a9a9a" stroke-width="0.6" />
<text x="36.4" y="660.02" font-size="5.6" text-anchor="end" fill="#666" >-0.20</text>
<line x1="37.0" y1="658.0" x2="39.2" y2="658.0" stroke="#9a9a9a" stroke-width="0.6" />
<text x="0" y="0" font-size="6" text-anchor="middle" fill="#4a4a4a" stroke="#4a4a4a" stroke-width="0.12" transform="translate(19.9,616.5) rotate(-90)" textLength="57.5" lengthAdjust="spacingAndGlyphs">Enrichment score (ES)</text>
<rect x="38.85" y="662" width="1.1" height="30.4" fill="#8a8a8a"/>
<rect x="42.15" y="662" width="1.1" height="30.4" fill="#2c2c2c"/>
<rect x="46.95" y="662" width="1.1" height="30.4" fill="#8a8a8a"/>
<rect x="48.15" y="662" width="1.1" height="30.4" fill="#565656"/>
<rect x="49.45" y="662" width="1.1" height="30.4" fill="#8a8a8a"/>
<rect x="51.05" y="662" width="1.1" height="30.4" fill="#2c2c2c"/>
<rect x="58.65" y="662" width="1.1" height="30.4" fill="#8a8a8a"/>
<rect x="75.85" y="662" width="1.1" height="30.4" fill="#2c2c2c"/>
<rect x="79.25" y="662" width="1.1" height="30.4" fill="#8a8a8a"/>
<rect x="84.55" y="662" width="1.1" height="30.4" fill="#565656"/>
<rect x="97.45" y="662" width="1.1" height="30.4" fill="#2c2c2c"/>
<rect x="108.75" y="662" width="1.1" height="30.4" fill="#8a8a8a"/>
<rect x="112.25" y="662" width="1.1" height="30.4" fill="#2c2c2c"/>
<rect x="133.05" y="662" width="1.1" height="30.4" fill="#8a8a8a"/>
<rect x="135.45" y="662" width="1.1" height="30.4" fill="#8a8a8a"/>
<rect x="138.45" y="662" width="1.1" height="30.4" fill="#8a8a8a"/>
<rect x="142.95" y="662" width="1.1" height="30.4" fill="#8a8a8a"/>
<rect x="145.55" y="662" width="1.1" height="30.4" fill="#8a8a8a"/>
<rect x="159.75" y="662" width="1.1" height="30.4" fill="#8a8a8a"/>
<rect x="164.75" y="662" width="1.1" height="30.4" fill="#8a8a8a"/>
<rect x="170.85" y="662" width="1.1" height="30.4" fill="#8a8a8a"/>
<rect x="173.85" y="662" width="1.1" height="30.4" fill="#8a8a8a"/>
<rect x="177.85" y="662" width="1.1" height="30.4" fill="#565656"/>
<rect x="180.55" y="662" width="1.1" height="30.4" fill="#8a8a8a"/>
<rect x="183.95" y="662" width="1.1" height="30.4" fill="#8a8a8a"/>
<rect x="189.45" y="662" width="1.1" height="30.4" fill="#565656"/>
<rect x="201.15" y="662" width="1.1" height="30.4" fill="#8a8a8a"/>
<rect x="205.15" y="662" width="1.1" height="30.4" fill="#8a8a8a"/>
<rect x="210.85" y="662" width="1.1" height="30.4" fill="#2c2c2c"/>
<rect x="211.65" y="662" width="1.1" height="30.4" fill="#2c2c2c"/>
<rect x="214.25" y="662" width="1.1" height="30.4" fill="#8a8a8a"/>
<rect x="221.75" y="662" width="1.1" height="30.4" fill="#565656"/>
<rect x="224.35" y="662" width="1.1" height="30.4" fill="#8a8a8a"/>
<rect x="226.35" y="662" width="1.1" height="30.4" fill="#8a8a8a"/>
<defs><linearGradient id="cbK" x1="0" x2="1" y1="0" y2="0"><stop offset="0.0" stop-color="#d6404b"/><stop offset="0.1543" stop-color="#d94b58"/><stop offset="0.3446" stop-color="#dc6c7c"/><stop offset="0.3472" stop-color="#e9c2db"/><stop offset="0.4385" stop-color="#e6c8e0"/><stop offset="0.4411" stop-color="#e2d8ef"/><stop offset="0.5975" stop-color="#dfd9ef"/><stop offset="0.6027" stop-color="#cdc7ea"/><stop offset="0.7122" stop-color="#c6c0e8"/><stop offset="0.7174" stop-color="#8d84d2"/><stop offset="0.8008" stop-color="#877dcf"/><stop offset="0.806" stop-color="#5e51b6"/><stop offset="1.0" stop-color="#4a3ba6"/></linearGradient></defs>
<rect x="39.4" y="692.4" width="191.8" height="7.4" fill="url(#cbK)"/>
<polyline points="39.8,600.6 42.7,603.5 43.7,587.1 46.5,589 47.5,584.2 49.4,582.3 52.3,573.7 56.2,576.5 58.1,578.5 60,576.2 67.7,582.3 75.4,589 77.3,585.8 81.2,587.1 84,589 86,587.7 92.7,592.9 96.5,596.2 99.4,594.8 106.2,599.6 115.8,606.3 125.4,614 130,617.3 138.8,624.3 147.7,632.1 158.8,640.9 165.4,643.1 174.2,646.5 179.8,648.7 182,646.9 187.5,647.6 190.8,650.4 194.2,648.7 200.8,653.8 205.2,653.1 208.5,655.3 210.8,647.6 213,644.2 215.2,645.4 216.9,639.4 221.8,643.1 222.9,635.4 224.7,633.2 226.2,628.8 227.3,623.9 229.6,626.1 231.8,627.7" fill="none" stroke="#7caa3e" stroke-width="2.0" stroke-linejoin="round" stroke-linecap="round"/>
<line x1="39.8" y1="626.9" x2="39.8" y2="601" stroke="#c8dca8" stroke-width="0.9" />
<text x="25.4" y="565.3" font-size="8.6" text-anchor="start" fill="#1e1e1e" font-weight="bold" textLength="203" lengthAdjust="spacingAndGlyphs" >Enrichment plot: KENNY_CTNNB1_TARGETS_UP</text>
<text x="186" y="582.8" font-size="10" text-anchor="start" fill="#111" textLength="51" lengthAdjust="spacingAndGlyphs" stroke="#111" stroke-width="0.3" >NES = 1.36</text>
<text x="186" y="594.7" font-size="10" fill="#111" stroke="#111" stroke-width="0.3" textLength="47.5" lengthAdjust="spacingAndGlyphs"><tspan font-style="italic">P</tspan> &lt; 0.0001</text>
<text x="186" y="606.3" font-size="10" text-anchor="start" fill="#111" textLength="50" lengthAdjust="spacingAndGlyphs" stroke="#111" stroke-width="0.3" >FDR = 0.11</text>
<text x="13" y="716.3" font-size="11.6" text-anchor="start" fill="#111" textLength="38.5" lengthAdjust="spacingAndGlyphs" stroke="#111" stroke-width="0.45" >GPR84</text>
<text x="227.3" y="713.8" font-size="11" text-anchor="start" fill="#111" textLength="15.2" lengthAdjust="spacingAndGlyphs" stroke="#111" stroke-width="0.45" >EV</text>
<rect x="292.5" y="555.4" width="227.5" height="144.6" fill="#f2f2f2" />
<rect x="318.5" y="577.5" width="199.5" height="122.5" fill="#ffffff" />
<line x1="318.5" y1="577.7" x2="518" y2="577.7" stroke="#f3f3f3" stroke-width="0.6" />
<line x1="318.5" y1="586.8" x2="518" y2="586.8" stroke="#f3f3f3" stroke-width="0.6" />
<line x1="318.5" y1="595.9" x2="518" y2="595.9" stroke="#f3f3f3" stroke-width="0.6" />
<line x1="318.5" y1="605.0" x2="518" y2="605.0" stroke="#f3f3f3" stroke-width="0.6" />
<line x1="318.5" y1="614.1" x2="518" y2="614.1" stroke="#f3f3f3" stroke-width="0.6" />
<line x1="318.5" y1="623.2" x2="518" y2="623.2" stroke="#f3f3f3" stroke-width="0.6" />
<line x1="318.5" y1="632.3" x2="518" y2="632.3" stroke="#f3f3f3" stroke-width="0.6" />
<line x1="318.5" y1="641.4" x2="518" y2="641.4" stroke="#f3f3f3" stroke-width="0.6" />
<line x1="318.5" y1="650.5" x2="518" y2="650.5" stroke="#f3f3f3" stroke-width="0.6" />
<line x1="318.5" y1="659.6" x2="518" y2="659.6" stroke="#f3f3f3" stroke-width="0.6" />
<line x1="351" y1="577.5" x2="351" y2="663" stroke="#f1f1f1" stroke-width="0.6" />
<line x1="384" y1="577.5" x2="384" y2="663" stroke="#f1f1f1" stroke-width="0.6" />
<line x1="417" y1="577.5" x2="417" y2="663" stroke="#f1f1f1" stroke-width="0.6" />
<line x1="450" y1="577.5" x2="450" y2="663" stroke="#f1f1f1" stroke-width="0.6" />
<line x1="483" y1="577.5" x2="483" y2="663" stroke="#f1f1f1" stroke-width="0.6" />
<rect x="318.5" y="577.5" width="199.5" height="122.5" fill="none" stroke="#d4d4d4" stroke-width="0.7"/>
<line x1="318.5" y1="663" x2="518" y2="663" stroke="#d8d8d8" stroke-width="0.7" />
<line x1="508.5" y1="693.3" x2="518" y2="693.3" stroke="#dddddd" stroke-width="0.7" />
<line x1="318.5" y1="632.3" x2="518" y2="632.3" stroke="#a9a9a9" stroke-width="0.8" />
<text x="315.4" y="579.72" font-size="5.6" text-anchor="end" fill="#666" >0.30</text>
<line x1="316.3" y1="577.7" x2="318.5" y2="577.7" stroke="#9a9a9a" stroke-width="0.6" />
<text x="315.4" y="588.82" font-size="5.6" text-anchor="end" fill="#666" >0.25</text>
<line x1="316.3" y1="586.8" x2="318.5" y2="586.8" stroke="#9a9a9a" stroke-width="0.6" />
<text x="315.4" y="597.92" font-size="5.6" text-anchor="end" fill="#666" >0.20</text>
<line x1="316.3" y1="595.9" x2="318.5" y2="595.9" stroke="#9a9a9a" stroke-width="0.6" />
<text x="315.4" y="607.02" font-size="5.6" text-anchor="end" fill="#666" >0.15</text>
<line x1="316.3" y1="605.0" x2="318.5" y2="605.0" stroke="#9a9a9a" stroke-width="0.6" />
<text x="315.4" y="616.12" font-size="5.6" text-anchor="end" fill="#666" >0.10</text>
<line x1="316.3" y1="614.1" x2="318.5" y2="614.1" stroke="#9a9a9a" stroke-width="0.6" />
<text x="315.4" y="625.22" font-size="5.6" text-anchor="end" fill="#666" >0.05</text>
<line x1="316.3" y1="623.2" x2="318.5" y2="623.2" stroke="#9a9a9a" stroke-width="0.6" />
<text x="315.4" y="634.32" font-size="5.6" text-anchor="end" fill="#666" >0.00</text>
<line x1="316.3" y1="632.3" x2="318.5" y2="632.3" stroke="#9a9a9a" stroke-width="0.6" />
<text x="315.4" y="643.42" font-size="5.6" text-anchor="end" fill="#666" >-0.05</text>
<line x1="316.3" y1="641.4" x2="318.5" y2="641.4" stroke="#9a9a9a" stroke-width="0.6" />
<text x="315.4" y="652.52" font-size="5.6" text-anchor="end" fill="#666" >-0.10</text>
<line x1="316.3" y1="650.5" x2="318.5" y2="650.5" stroke="#9a9a9a" stroke-width="0.6" />
<text x="315.4" y="661.62" font-size="5.6" text-anchor="end" fill="#666" >-0.15</text>
<line x1="316.3" y1="659.6" x2="318.5" y2="659.6" stroke="#9a9a9a" stroke-width="0.6" />
<text x="0" y="0" font-size="6" text-anchor="middle" fill="#4a4a4a" stroke="#4a4a4a" stroke-width="0.12" transform="translate(300.2,622.5) rotate(-90)" textLength="55" lengthAdjust="spacingAndGlyphs">Enrichment score (ES)</text>
<rect x="318.05" y="665" width="1.3" height="28.3" fill="#8a8a8a"/>
<rect x="319.25" y="665" width="1.3" height="28.3" fill="#565656"/>
<rect x="320.45" y="665" width="1.3" height="28.3" fill="#8a8a8a"/>
<rect x="321.45" y="665" width="1.3" height="28.3" fill="#8a8a8a"/>
<rect x="324.45" y="665" width="1.3" height="28.3" fill="#2c2c2c"/>
<rect x="326.45" y="665" width="1.3" height="28.3" fill="#8a8a8a"/>
<rect x="329.55" y="665" width="1.3" height="28.3" fill="#8a8a8a"/>
<rect x="332.55" y="665" width="1.3" height="28.3" fill="#2c2c2c"/>
<rect x="336.55" y="665" width="1.3" height="28.3" fill="#8a8a8a"/>
<rect x="338.65" y="665" width="1.3" height="28.3" fill="#8a8a8a"/>
<rect x="340.65" y="665" width="1.3" height="28.3" fill="#2c2c2c"/>
<rect x="343.65" y="665" width="1.3" height="28.3" fill="#8a8a8a"/>
<rect x="346.65" y="665" width="1.3" height="28.3" fill="#2c2c2c"/>
<rect x="349.75" y="665" width="1.3" height="28.3" fill="#8a8a8a"/>
<rect x="354.75" y="665" width="1.3" height="28.3" fill="#2c2c2c"/>
<rect x="356.75" y="665" width="1.3" height="28.3" fill="#8a8a8a"/>
<rect x="360.85" y="665" width="1.3" height="28.3" fill="#8a8a8a"/>
<rect x="366.85" y="665" width="1.3" height="28.3" fill="#8a8a8a"/>
<rect x="369.95" y="665" width="1.3" height="28.3" fill="#8a8a8a"/>
<rect x="372.95" y="665" width="1.3" height="28.3" fill="#8a8a8a"/>
<rect x="376.55" y="665" width="1.3" height="28.3" fill="#2c2c2c"/>
<rect x="381.05" y="665" width="1.3" height="28.3" fill="#8a8a8a"/>
<rect x="384.05" y="665" width="1.3" height="28.3" fill="#8a8a8a"/>
<rect x="387.05" y="665" width="1.3" height="28.3" fill="#8a8a8a"/>
<rect x="389.15" y="665" width="1.3" height="28.3" fill="#2c2c2c"/>
<rect x="392.15" y="665" width="1.3" height="28.3" fill="#8a8a8a"/>
<rect x="395.15" y="665" width="1.3" height="28.3" fill="#8a8a8a"/>
<rect x="397.15" y="665" width="1.3" height="28.3" fill="#8a8a8a"/>
<rect x="401.25" y="665" width="1.3" height="28.3" fill="#8a8a8a"/>
<rect x="405.25" y="665" width="1.3" height="28.3" fill="#2c2c2c"/>
<rect x="407.25" y="665" width="1.3" height="28.3" fill="#8a8a8a"/>
<rect x="410.35" y="665" width="1.3" height="28.3" fill="#8a8a8a"/>
<rect x="413.35" y="665" width="1.3" height="28.3" fill="#8a8a8a"/>
<rect x="415.35" y="665" width="1.3" height="28.3" fill="#8a8a8a"/>
<rect x="418.45" y="665" width="1.3" height="28.3" fill="#8a8a8a"/>
<rect x="420.45" y="665" width="1.3" height="28.3" fill="#8a8a8a"/>
<rect x="424.05" y="665" width="1.3" height="28.3" fill="#2c2c2c"/>
<rect x="425.25" y="665" width="1.3" height="28.3" fill="#565656"/>
<rect x="426.45" y="665" width="1.3" height="28.3" fill="#2c2c2c"/>
<rect x="427.55" y="665" width="1.3" height="28.3" fill="#565656"/>
<rect x="429.55" y="665" width="1.3" height="28.3" fill="#8a8a8a"/>
<rect x="432.55" y="665" width="1.3" height="28.3" fill="#8a8a8a"/>
<rect x="437.65" y="665" width="1.3" height="28.3" fill="#8a8a8a"/>
<rect x="439.65" y="665" width="1.3" height="28.3" fill="#8a8a8a"/>
<rect x="441.65" y="665" width="1.3" height="28.3" fill="#8a8a8a"/>
<rect x="444.65" y="665" width="1.3" height="28.3" fill="#8a8a8a"/>
<rect x="448.75" y="665" width="1.3" height="28.3" fill="#2c2c2c"/>
<rect x="450.75" y="665" width="1.3" height="28.3" fill="#8a8a8a"/>
<rect x="454.75" y="665" width="1.3" height="28.3" fill="#8a8a8a"/>
<rect x="457.15" y="665" width="1.3" height="28.3" fill="#8a8a8a"/>
<rect x="459.85" y="665" width="1.3" height="28.3" fill="#8a8a8a"/>
<rect x="461.85" y="665" width="1.3" height="28.3" fill="#8a8a8a"/>
<rect x="464.85" y="665" width="1.3" height="28.3" fill="#8a8a8a"/>
<rect x="467.95" y="665" width="1.3" height="28.3" fill="#8a8a8a"/>
<rect x="469.95" y="665" width="1.3" height="28.3" fill="#8a8a8a"/>
<rect x="476.95" y="665" width="1.3" height="28.3" fill="#8a8a8a"/>
<rect x="481.05" y="665" width="1.3" height="28.3" fill="#2c2c2c"/>
<rect x="483.05" y="665" width="1.3" height="28.3" fill="#8a8a8a"/>
<rect x="486.05" y="665" width="1.3" height="28.3" fill="#8a8a8a"/>
<rect x="489.15" y="665" width="1.3" height="28.3" fill="#8a8a8a"/>
<rect x="492.15" y="665" width="1.3" height="28.3" fill="#8a8a8a"/>
<rect x="495.15" y="665" width="1.3" height="28.3" fill="#8a8a8a"/>
<rect x="497.15" y="665" width="1.3" height="28.3" fill="#8a8a8a"/>
<rect x="500.25" y="665" width="1.3" height="28.3" fill="#2c2c2c"/>
<rect x="502.25" y="665" width="1.3" height="28.3" fill="#8a8a8a"/>
<rect x="506.25" y="665" width="1.3" height="28.3" fill="#8a8a8a"/>
<defs><linearGradient id="cbH" x1="0" x2="1" y1="0" y2="0"><stop offset="0.0" stop-color="#d6404b"/><stop offset="0.15" stop-color="#d94b58"/><stop offset="0.3421" stop-color="#dc6c7c"/><stop offset="0.3447" stop-color="#e9c2db"/><stop offset="0.4368" stop-color="#e6c8e0"/><stop offset="0.4395" stop-color="#e2d8ef"/><stop offset="0.6026" stop-color="#dfd9ef"/><stop offset="0.6079" stop-color="#cdc7ea"/><stop offset="0.7184" stop-color="#c6c0e8"/><stop offset="0.7237" stop-color="#8d84d2"/><stop offset="0.8026" stop-color="#857bce"/><stop offset="0.8079" stop-color="#5e51b6"/><stop offset="1.0" stop-color="#4a3ba6"/></linearGradient></defs>
<rect x="318.5" y="693.3" width="190.0" height="6.7" fill="url(#cbH)"/>
<polyline points="318.5,632.3 319.2,625 320.8,621.2 322.3,610.6 324.6,611.5 326.5,601.9 328.5,597.7 332.3,597.7 334.2,589.4 337.1,592.3 340,586.5 343.8,583.7 346.7,582.3 350.6,583.7 355.4,586.2 360.2,585 365,587.5 370.8,590 376.5,593.3 378.5,591.9 382.3,595.2 388.1,597.1 393.8,601 401.5,606.7 410,614.8 415,619.5 420.6,623.7 431.2,630.7 441.7,638.1 450.2,644 460.8,649.1 471.3,655.4 477.7,659.7 480.9,660.3 484,653.3 487.2,655.4 490.4,654.6 493.6,656.1 496.7,655.4 498.9,653.9 501,649.7 502,643.4 504.1,645.5 505.6,637 506.9,631.7" fill="none" stroke="#7caa3e" stroke-width="2.0" stroke-linejoin="round" stroke-linecap="round"/>
<text x="403.3" y="564" font-size="8.6" text-anchor="middle" fill="#1e1e1e" font-weight="bold" textLength="71.5" lengthAdjust="spacingAndGlyphs" >Enrichment plot:</text>
<text x="304" y="574.6" font-size="8.6" text-anchor="start" fill="#1e1e1e" font-weight="bold" textLength="201.6" lengthAdjust="spacingAndGlyphs" >CHIANG_LIVER_CANCER_SUBCLASS_CTNNB1_UP</text>
<text x="460.8" y="591.1" font-size="10" text-anchor="start" fill="#111" textLength="51.5" lengthAdjust="spacingAndGlyphs" stroke="#111" stroke-width="0.3" >NES = 1.27</text>
<text x="460.8" y="603.1" font-size="10" fill="#111" stroke="#111" stroke-width="0.3"><tspan font-style="italic">P</tspan> &lt; 0.01</text>
<text x="460.8" y="614.5" font-size="10" text-anchor="start" fill="#111" textLength="51.5" lengthAdjust="spacingAndGlyphs" stroke="#111" stroke-width="0.3" >FDR = 0.13</text>
<text x="292" y="716" font-size="11.6" text-anchor="start" fill="#111" textLength="37.5" lengthAdjust="spacingAndGlyphs" stroke="#111" stroke-width="0.45" >GPR84</text>
<text x="505.6" y="715.2" font-size="11" text-anchor="start" fill="#111" textLength="15" lengthAdjust="spacingAndGlyphs" stroke="#111" stroke-width="0.45" >EV</text>
</svg></body></html>
